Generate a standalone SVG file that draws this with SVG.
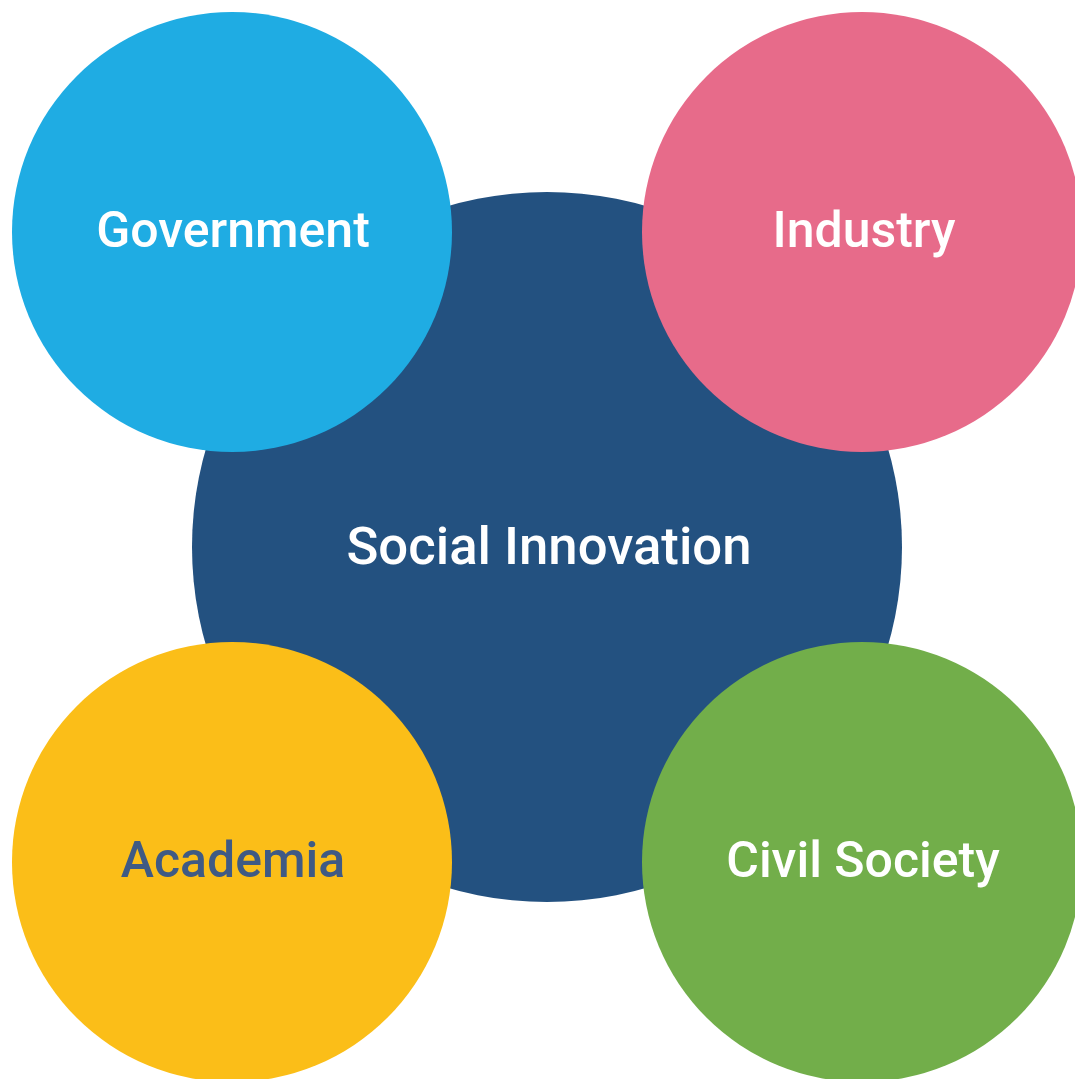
<svg xmlns="http://www.w3.org/2000/svg" width="1075" height="1079" viewBox="0 0 1075 1079">
<style>
.lbl{font-family:Roboto,"Liberation Sans",sans-serif;font-size:50px;font-weight:500;text-anchor:middle;dominant-baseline:central;fill:#ffffff}
.main{font-size:52.7px}
</style>
<rect width="1075" height="1079" fill="#ffffff"/>
<g id="social-innovation">
<circle cx="547" cy="547" r="355" fill="#235180"/>
<text class="lbl main" x="549" y="546">Social Innovation</text>
</g>
<g id="government">
<circle cx="232" cy="232" r="220" fill="#1FACE3"/>
<text class="lbl" x="233" y="230">Government</text>
</g>
<g id="industry">
<circle cx="862" cy="232" r="220" fill="#E76B8A"/>
<text class="lbl" x="864" y="230">Industry</text>
</g>
<g id="academia">
<circle cx="232" cy="862" r="220" fill="#FBBE18"/>
<text class="lbl" x="233" y="860" style="fill:#3F5A84">Academia</text>
</g>
<g id="civil-society">
<circle cx="862" cy="862" r="220" fill="#72AE4A"/>
<text class="lbl" x="863" y="860">Civil Society</text>
</g>
<g id="connectors"/>
</svg>
